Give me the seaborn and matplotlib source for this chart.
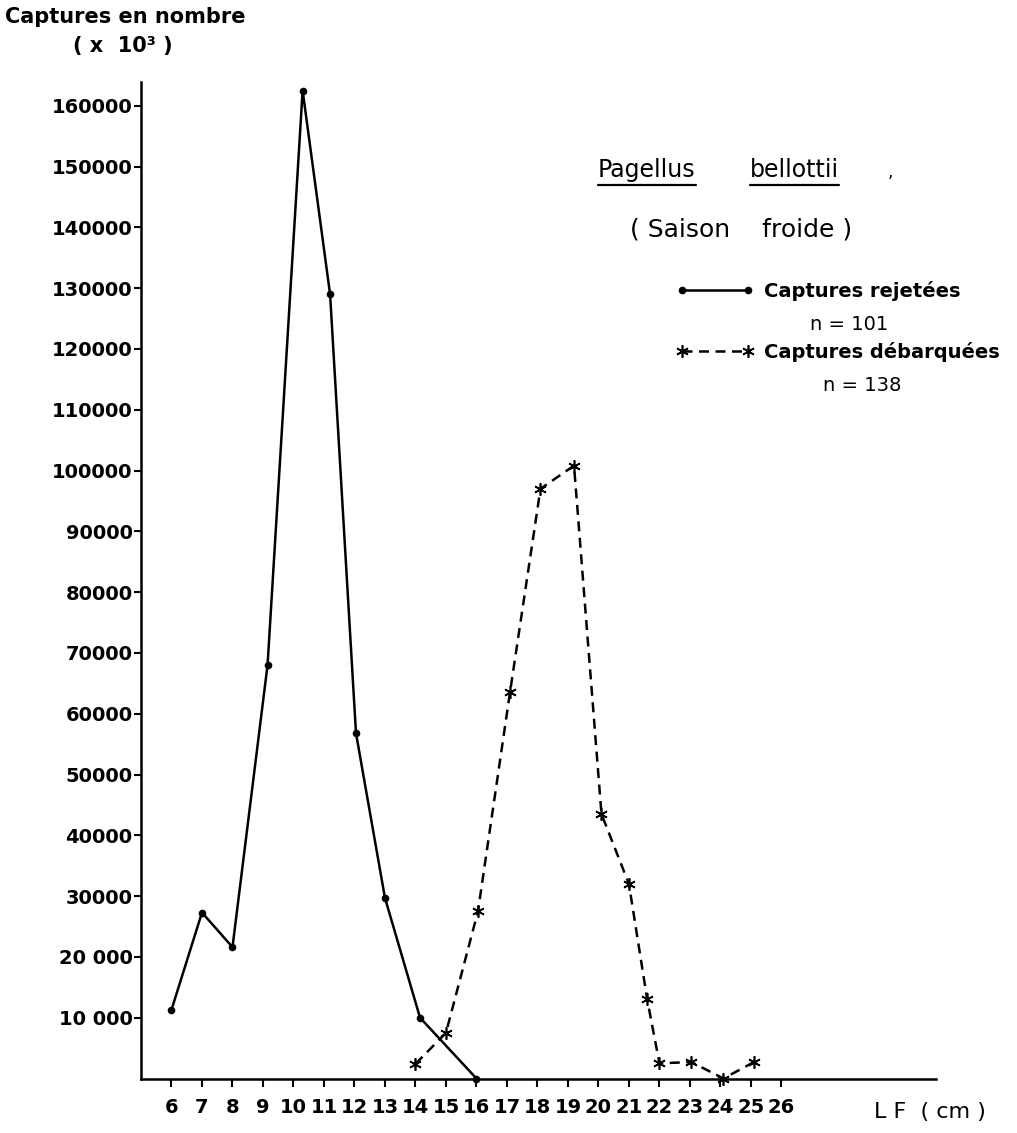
import matplotlib
matplotlib.use("Agg")
import matplotlib.pyplot as plt
import seaborn as sns
from matplotlib.lines import Line2D

# ---- data ----
rej_lf = [6, 7, 8, 9.15, 10.3, 11.2, 12.05, 13, 14.15, 16]
rej_n = [11300, 27300, 21600, 68000, 162500, 129000, 56800, 29700, 10000, 0]
deb_lf = [14, 15, 16.05, 17.1, 18.1, 19.2, 20.1, 21, 21.6, 22, 23.05, 24.1, 25.1]
deb_n = [2400, 7500, 27500, 63500, 97000, 100800, 43500, 32000, 13000, 2500, 2700, 0, 2700]
x_ticks = list(range(6, 27))
x_labels = [str(v) for v in x_ticks]
y_ticks = list(range(10000, 160001, 10000))
y_labels = ["10 000", "20 000", "30000", "40000", "50000", "60000", "70000", "80000",
            "90000", "100000", "110000", "120000", "130000", "140000", "150000", "160000"]
legend_labels = ["Captures rejetées", "Captures débarquées"]
legend_counts = ["n = 101", "n = 138"]

sns.set_style("white")
plt.rcParams["font.family"] = ["DejaVu Sans"]
plt.rcParams["text.color"] = "black"
plt.rcParams["xtick.color"] = "black"
plt.rcParams["ytick.color"] = "black"

W, H = 1017, 1133
fig = plt.figure(figsize=(W / 100, H / 100), dpi=100)
ax = fig.add_axes([141 / W, 1 - 1078.5 / H, (936 - 141) / W, (1078.5 - 82) / H])

def fx(px):
    return px / W

def fy(py):
    return 1 - py / H

sns.lineplot(x=rej_lf, y=rej_n, ax=ax, color="black", lw=1.8, marker="o",
             markersize=5.5, markeredgecolor="black", markeredgewidth=0,
             estimator=None, sort=False, clip_on=False)
sns.lineplot(x=deb_lf, y=deb_n, ax=ax, color="black", lw=1.8, linestyle=(0, (4, 2.6)),
             marker=(6, 2, 0), markersize=9, markeredgecolor="black",
             markeredgewidth=1.2, estimator=None, sort=False, clip_on=False)

ax.set_xlim(5.0, 31.07)
ax.set_ylim(0, 163900)
sns.despine(ax=ax)
for s in ("left", "bottom"):
    ax.spines[s].set_linewidth(1.8)
    ax.spines[s].set_color("black")

ax.set_xticks(x_ticks)
ax.set_xticklabels(x_labels, fontsize=14, fontweight="bold", color="black")
ax.set_yticks(y_ticks)
ax.set_yticklabels(y_labels, fontsize=14, fontweight="bold", color="black")
ax.tick_params(axis="x", direction="out", length=6, width=1.5, pad=8, colors="black", bottom=True)
ax.tick_params(axis="y", direction="out", length=5, width=1.5, pad=1, colors="black", left=True)
ax.set_xlabel("")
ax.set_ylabel("")

# axis titles
fig.text(fx(5), fy(17), "Captures en nombre", fontsize=15, fontweight="bold", ha="left", va="center")
fig.text(fx(123), fy(46), "( x  10³ )", fontsize=15, fontweight="bold", ha="center", va="center")
fig.text(fx(930), fy(1112), "L F  ( cm )", fontsize=16, ha="center", va="center")

# title block
t1 = fig.text(fx(598), fy(170), "Pagellus", fontsize=17, ha="left", va="center")
t2 = fig.text(fx(750), fy(170), "bellottii", fontsize=17, ha="left", va="center")
fig.text(fx(888), fy(172), ",", fontsize=12, ha="left", va="center")
fig.text(fx(741), fy(230), "( Saison    froide )", fontsize=18, ha="center", va="center")

# legend
lines = ax.get_lines()
ax.legend(handles=[lines[0], lines[1]], labels=legend_labels, numpoints=2,
          handlelength=4.0, handletextpad=0.5, labelspacing=2.1, frameon=False,
          loc="upper left", bbox_to_anchor=(fx(676), fy(281)), bbox_transform=fig.transFigure,
          borderaxespad=0, borderpad=0, prop={"size": 14, "weight": "bold"})
fig.text(fx(849), fy(325), legend_counts[0], fontsize=14, ha="center", va="center")
fig.text(fx(862), fy(386), legend_counts[1], fontsize=14, ha="center", va="center")

# underline the species name
fig.canvas.draw()
inv = fig.transFigure.inverted()
for t in (t1, t2):
    bb = t.get_window_extent()
    (x0, y0), (x1, _) = inv.transform([(bb.x0, bb.y0), (bb.x1, bb.y1)])
    fig.add_artist(Line2D([x0, x1], [y0 - 0.003, y0 - 0.003], transform=fig.transFigure,
                          color="black", lw=1.6))

fig.savefig("out.png", dpi=100)
